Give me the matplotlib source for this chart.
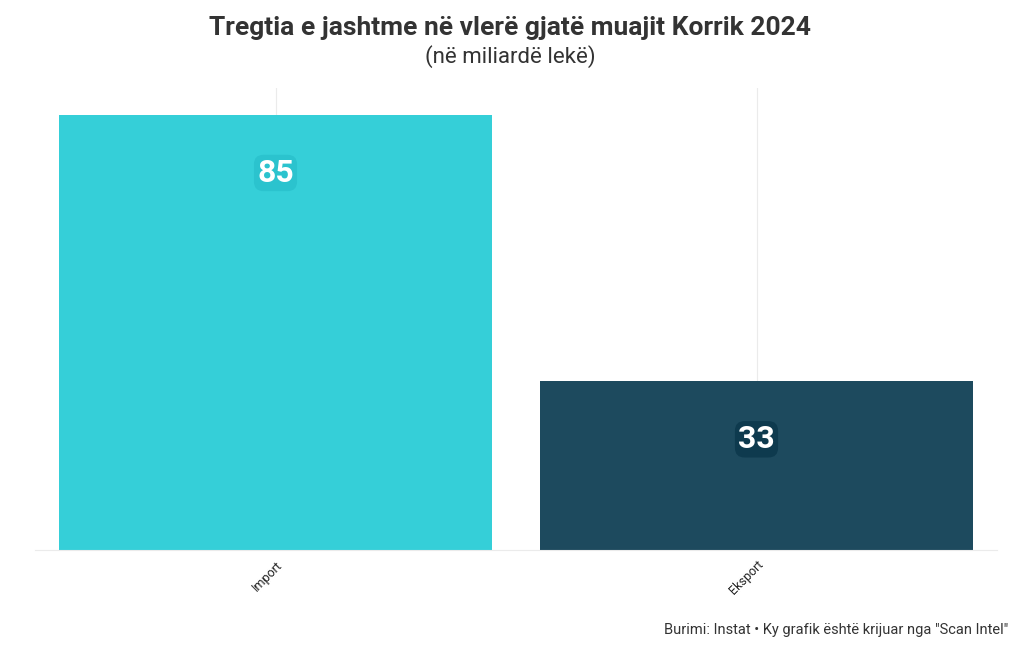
import matplotlib
matplotlib.use("Agg")
import matplotlib.pyplot as plt
from matplotlib import font_manager

categories = ["Import", "Eksport"]
values = [85, 33]
colors = ["#35CFD8", "#1D4A5E"]
label_box_colors = ["#2BC3CE", "#0E3A4E"]

title = "Tregtia e jashtme në vlerë gjatë muajit Korrik 2024"
subtitle = "(në miliardë lekë)"
footer = "Burimi: Instat • Ky grafik është krijuar nga \"Scan Intel\""

names = {f.name for f in font_manager.fontManager.ttflist}
fam = "Liberation Sans Narrow" if "Liberation Sans Narrow" in names else "Roboto"
plt.rcParams["font.family"] = [fam, "DejaVu Sans"]

fig = plt.figure(figsize=(10.2, 6.5), dpi=100)
ax = fig.add_axes([35/1020, 1-550/650, 962/1020, 462/650])

x = list(range(len(categories)))
ax.bar(x, values, width=0.9, color=colors, zorder=2)
ax.set_xlim(-0.5, len(categories) - 0.5)
ax.set_ylim(0, 90.2)

for xi, v, bc in zip(x, values, label_box_colors):
    ax.annotate(str(v), (xi, v), xytext=(0, -42), textcoords="offset points",
                ha="center", va="center", fontsize=23, fontweight="bold", color="white",
                bbox=dict(boxstyle="round,pad=0.1,rounding_size=0.3", fc=bc, ec="none"),
                zorder=3)

ax.set_xticks(x)
ax.set_xticklabels(categories, rotation=45, ha="right", rotation_mode="anchor",
                   fontsize=9, color="#222222")
ax.tick_params(axis="x", length=0, pad=6)
ax.set_yticks([])
ax.grid(axis="x", color="#EBEBEB", linewidth=0.8, zorder=0)
for s in ["top", "right", "left"]:
    ax.spines[s].set_visible(False)
ax.spines["bottom"].set_color("#EBEBEB")
ax.spines["bottom"].set_linewidth(0.8)

fig.text(0.5, 1 - 28/650, title, ha="center", va="center", fontsize=19,
         fontweight="bold", color="#333333")
fig.text(0.5, 1 - 57/650, subtitle, ha="center", va="center", fontsize=16,
         color="#333333")
fig.text(1008/1020, 1 - 630/650, footer, ha="right", va="center", fontsize=10.5,
         color="#333333")

fig.savefig("out.png", dpi=100)
